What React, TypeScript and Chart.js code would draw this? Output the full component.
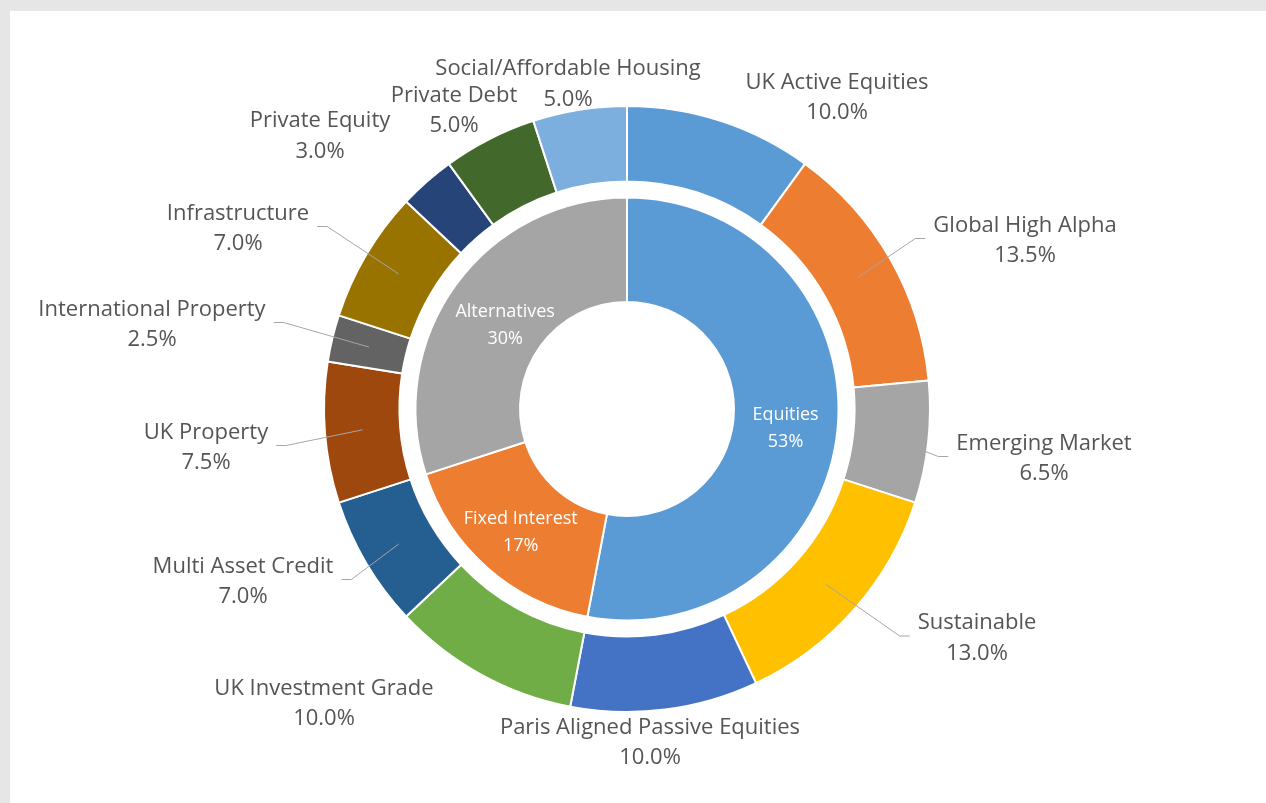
import { useEffect, useRef } from 'react';
import { Chart, registerables } from 'chart.js';

Chart.register(...registerables);

// Outer ring: individual mandates (% of fund)
const assetNames = [
  'UK Active Equities',
  'Global High Alpha',
  'Emerging Market',
  'Sustainable',
  'Paris Aligned Passive Equities',
  'UK Investment Grade',
  'Multi Asset Credit',
  'UK Property',
  'International Property',
  'Infrastructure',
  'Private Equity',
  'Private Debt',
  'Social/Affordable Housing',
];
const assetWeights = [10, 13.5, 6.5, 13, 10, 10, 7, 7.5, 2.5, 7, 3, 5, 5];
const assetColors = [
  '#5B9BD5', '#ED7D31', '#A5A5A5', '#FFC000', '#4472C4', '#70AD47', '#255E91',
  '#9E480E', '#636363', '#997300', '#264478', '#43682B', '#7CAFDD',
];

// Inner ring: asset classes (% of fund)
const classNames = ['Equities', 'Fixed Interest', 'Alternatives'];
const classWeights = [53, 17, 30];
const classColors = ['#5B9BD5', '#ED7D31', '#A5A5A5'];

// Label placement (block centre relative to the chart centre) and leader lines
const assetLabelOffsets: [number, number][] = [
  [210, -311.5],
  [398, -168.5],
  [417, 49.5],
  [350, 229],
  [23, 333.5],
  [-303, 294.5],
  [-384, 172.5],
  [-421, 38.5],
  [-475, -84.5],
  [-389, -180.5],
  [-307, -273],
  [-173, -298.5],
  [-59, -325],
];
const assetLeaderLines = [false, true, true, true, false, false, true, true, true, true, false, false, false];
// Small nudges of the inner labels from the ring's mid-point
const classLabelNudges: [number, number][] = [
  [0, 4],
  [-1, 4],
  [7, 10],
];

const OUTER_FONT = '22px "Open Sans", "Noto Sans", sans-serif';
const INNER_FONT = '18px "Open Sans", "Noto Sans", sans-serif';

const labelPlugin = {
  id: 'ringLabels',
  afterDatasetsDraw(chart: any) {
    const ctx = chart.ctx as CanvasRenderingContext2D;
    ctx.save();
    ctx.textAlign = 'center';
    ctx.textBaseline = 'middle';

    const outer = chart.getDatasetMeta(0);
    ctx.font = OUTER_FONT;
    outer.data.forEach((arc: any, i: number) => {
      const { x, y, startAngle, endAngle, innerRadius, outerRadius } = arc;
      const cx = x + assetLabelOffsets[i][0];
      const cy = y + assetLabelOffsets[i][1];
      const line1 = assetNames[i];
      const line2 = assetWeights[i].toFixed(1) + '%';
      const w = Math.max(ctx.measureText(line1).width, ctx.measureText(line2).width);
      if (assetLeaderLines[i]) {
        const mid = (startAngle + endAngle) / 2;
        const r = (innerRadius + outerRadius) / 2;
        const sx = x + Math.cos(mid) * r;
        const sy = y + Math.sin(mid) * r;
        const dir = assetLabelOffsets[i][0] > 0 ? 1 : -1;
        const ex = cx - dir * (w / 2 + 8);
        const ey = cy - 2;
        const kx = ex - dir * 10;
        ctx.strokeStyle = '#A6A6A6';
        ctx.lineWidth = 1;
        ctx.beginPath();
        ctx.moveTo(sx, sy);
        ctx.lineTo(kx, ey);
        ctx.lineTo(ex, ey);
        ctx.stroke();
      }
      ctx.fillStyle = '#555555';
      ctx.fillText(line1, cx, cy - 15);
      ctx.fillText(line2, cx, cy + 15.5);
    });

    const inner = chart.getDatasetMeta(2);
    ctx.font = INNER_FONT;
    ctx.fillStyle = '#FFFFFF';
    inner.data.forEach((arc: any, i: number) => {
      const { x, y, startAngle, endAngle, innerRadius, outerRadius } = arc;
      const mid = (startAngle + endAngle) / 2;
      const r = (innerRadius + outerRadius) / 2;
      const cx = x + Math.cos(mid) * r + classLabelNudges[i][0];
      const cy = y + Math.sin(mid) * r + classLabelNudges[i][1];
      ctx.fillText(classNames[i], cx, cy - 13.5);
      ctx.fillText(classWeights[i] + '%', cx, cy + 13.5);
    });
    ctx.restore();
  },
};

export default function App() {
  const ref = useRef<HTMLCanvasElement>(null);

  useEffect(() => {
    if (!ref.current) return;
    const chart = new Chart(ref.current, {
      type: 'doughnut',
      data: {
        labels: assetNames,
        datasets: [
          {
            data: assetWeights,
            backgroundColor: assetColors,
            borderColor: '#FFFFFF',
            borderWidth: 2,
            weight: 75,
          } as any,
          {
            data: [1],
            backgroundColor: 'rgba(0,0,0,0)',
            borderWidth: 0,
            weight: 16,
          } as any,
          {
            data: classWeights,
            backgroundColor: classColors,
            borderColor: '#FFFFFF',
            borderWidth: 2,
            weight: 104,
          } as any,
        ],
      },
      options: {
        responsive: false,
        animation: false,
        devicePixelRatio: 1,
        radius: 303,
        cutout: '35.3%',
        layout: { padding: { left: 307, right: 329, top: 88, bottom: 84 } },
        plugins: {
          legend: { display: false },
          tooltip: { enabled: false },
        },
      } as any,
      plugins: [labelPlugin],
    });
    return () => chart.destroy();
  }, []);

  return (
    <div
      style={{
        position: 'fixed',
        left: 0,
        top: 0,
        width: 1266,
        height: 803,
        background: '#E6E6E6',
      }}
    >
      <div
        style={{
          position: 'absolute',
          left: 10,
          top: 11,
          width: 1256,
          height: 792,
          background: '#FFFFFF',
        }}
      >
        <canvas ref={ref} width={1256} height={792} style={{ display: 'block' }} />
      </div>
    </div>
  );
}
